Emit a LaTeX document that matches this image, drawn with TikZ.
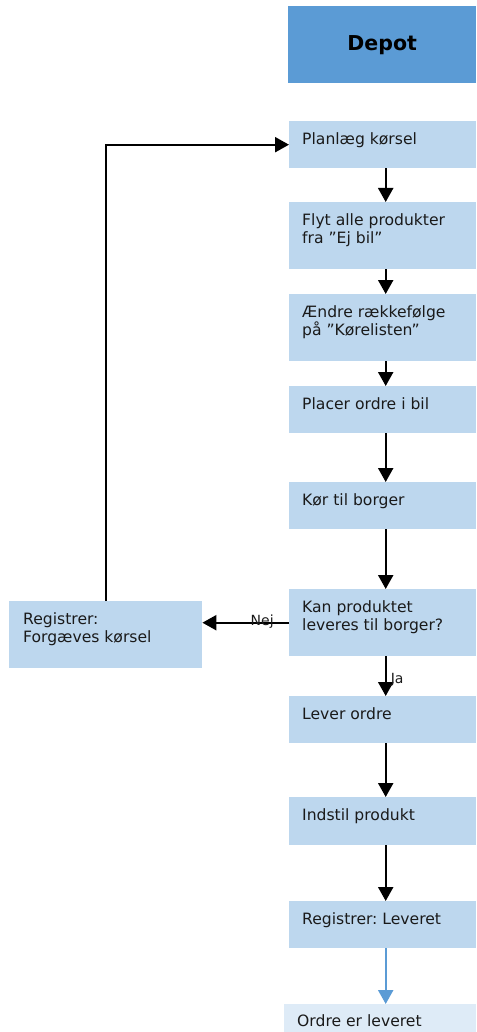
\documentclass[tikz,border=0pt]{standalone}
\usepackage{fontspec}
\setmainfont{DejaVu Sans}
\usetikzlibrary{arrows.meta,calc}
\definecolor{boxfill}{HTML}{BDD7EE}
\definecolor{headfill}{HTML}{5B9BD5}
\definecolor{lastfill}{HTML}{DEEBF7}
\definecolor{ink}{HTML}{1A1A1A}
\frenchspacing
\begin{document}
\begin{tikzpicture}[x=1pt,y=-1pt,
  box/.style={fill=boxfill,draw=none,inner sep=0pt,anchor=north west,minimum width=187pt},
  txt/.style={anchor=north west,inner sep=0pt,align=left,text=ink,font=\fontsize{15.6}{18}\selectfont},
  flow/.style={line width=2.2pt,-{Triangle[length=14pt,width=15pt]}},
  lbl/.style={inner sep=0pt,text=ink,font=\fontsize{14}{16}\selectfont}]
\useasboundingbox (0,0) rectangle (476,1032);
\node[fill=headfill,inner sep=0pt,anchor=north west,minimum width=188pt,minimum height=77pt,font=\fontsize{20.5}{24}\bfseries] (depot) at (288,6) {Depot};
\node[box,minimum height=47pt] (plan) at (289,121) {};
\node[box,minimum height=67pt] (flyt) at (289,202) {};
\node[box,minimum height=67pt] (aendre) at (289,294) {};
\node[box,minimum height=47pt] (placer) at (289,386) {};
\node[box,minimum height=47pt] (koer) at (289,482) {};
\node[box,minimum height=67pt] (kan) at (289,589) {};
\node[box,minimum height=67pt,minimum width=193pt] (reg) at (9,601) {};
\node[box,minimum height=47pt] (lever) at (289,696) {};
\node[box,minimum height=48pt] (indstil) at (289,797) {};
\node[box,minimum height=47pt] (regl) at (289,901) {};
\node[box,fill=lastfill,minimum height=28pt,minimum width=192pt] (ordre) at (284,1004) {};
\node[txt] (tplan) at ($(plan.north west)+(13,11)$) {Planlæg kørsel};
\node[txt] (tflyt) at ($(flyt.north west)+(13,11)$) {Flyt alle produkter\\fra ”Ej bil”};
\node[txt] (taendre) at ($(aendre.north west)+(13,11)$) {Ændre rækkefølge\\på ”Kørelisten”};
\node[txt] (tplacer) at ($(placer.north west)+(13,11)$) {Placer ordre i bil};
\node[txt] (tkoer) at ($(koer.north west)+(13,11)$) {Kør til borger};
\node[txt] (tkan) at ($(kan.north west)+(13,11)$) {Kan produktet\\leveres til borger?};
\node[txt] (treg) at ($(reg.north west)+(14,11)$) {Registrer:\\Forgæves kørsel};
\node[txt] (tlever) at ($(lever.north west)+(13,11)$) {Lever ordre};
\node[txt] (tindstil) at ($(indstil.north west)+(13,11)$) {Indstil produkt};
\node[txt] (tregl) at ($(regl.north west)+(13,11)$) {Registrer: Leveret};
\node[txt] (tordre) at ($(ordre.north west)+(13,10)$) {Ordre er leveret};
\draw[flow] ($(plan.south)+(3,0)$) -- ($(flyt.north)+(3,0)$);
\draw[flow] ($(flyt.south)+(3,0)$) -- ($(aendre.north)+(3,0)$);
\draw[flow] ($(aendre.south)+(3,0)$) -- ($(placer.north)+(3,0)$);
\draw[flow] ($(placer.south)+(3,0)$) -- ($(koer.north)+(3,0)$);
\draw[flow] ($(koer.south)+(3,0)$) -- ($(kan.north)+(3,0)$);
\draw[flow] ($(kan.south)+(3,0)$) -- node[lbl,anchor=west,pos=0.6,xshift=4pt] (ja) {Ja} ($(lever.north)+(3,0)$);
\draw[flow] ($(lever.south)+(3,0)$) -- ($(indstil.north)+(3,0)$);
\draw[flow] ($(indstil.south)+(3,0)$) -- ($(regl.north)+(3,0)$);
\draw[flow,draw=headfill] ($(regl.south)+(3,0)$) -- ($(ordre.north)+(5.5,0)$);
\draw[flow] (kan.west) -- node[lbl,pos=0.31,yshift=1.5pt] (nej) {Nej} (kan.west -| reg.east);
\draw[flow] (reg.north) |- (plan.west);
\end{tikzpicture}
\end{document}
